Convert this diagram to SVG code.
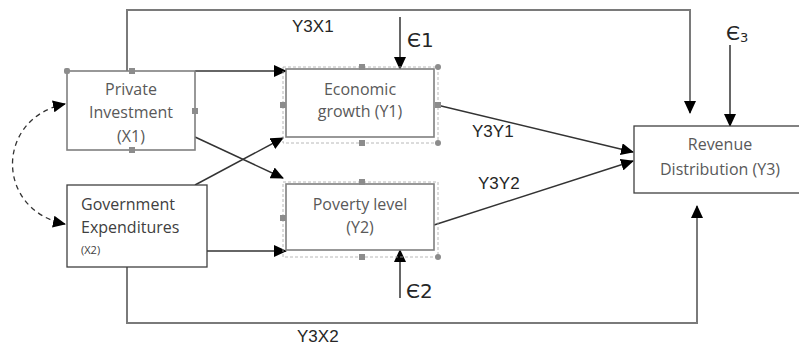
<svg xmlns="http://www.w3.org/2000/svg" width="799" height="346" viewBox="0 0 799 346">
<style>
.bg{fill:#fff}
.box{fill:#fff;stroke:#404040;stroke-width:1.3}
.gbox{fill:#fff;stroke:#7f7f7f;stroke-width:1.6}
.sel{fill:none;stroke:#a6a6a6;stroke-width:0.8;stroke-dasharray:3 2}
.h{fill:#8c8c8c}
.t{font-family:"Open Sans","Noto Sans",sans-serif;font-size:16px;fill:#595959;text-anchor:middle}
.tl{font-family:"Open Sans","Noto Sans",sans-serif;font-size:16px;fill:#404040}
.ts{font-family:"Open Sans","Noto Sans",sans-serif;font-size:11px;fill:#404040}
.lab{font-family:"Liberation Sans",Arial,sans-serif;font-size:17px;fill:#262626}
.eps{font-family:"DejaVu Sans","Liberation Sans",sans-serif;font-size:20px;fill:#262626}
.c{fill:none;stroke:#333;stroke-width:1.5}
.cg{fill:none;stroke:#7a7a7a;stroke-width:2}
.cd{fill:none;stroke:#333;stroke-width:1.3;stroke-dasharray:5 4}
</style>
<defs>
<marker id="ah" markerUnits="userSpaceOnUse" markerWidth="14" markerHeight="12" refX="12" refY="6" orient="auto-start-reverse" viewBox="0 0 14 12">
<path d="M0,0 L13,6 L0,12 Z" fill="#000"/>
</marker>
</defs>
<rect class="bg" x="0" y="0" width="799" height="346"/>

<g id="connectors">
<path class="cg" d="M127,71 V10 H690 V113" marker-end="url(#ah)"/>
<path class="cg" d="M127,267 V323 H697 V206" marker-end="url(#ah)"/>
<path class="c" d="M195,71 H286" marker-end="url(#ah)"/>
<path class="c" d="M195,137 L283,178" marker-end="url(#ah)"/>
<path class="c" d="M195,185 L283,138" marker-end="url(#ah)"/>
<path class="c" d="M188,251 H286" marker-end="url(#ah)"/>
<path class="c" d="M437,105 L633,152" marker-end="url(#ah)"/>
<path class="c" d="M434,225 L633,161" marker-end="url(#ah)"/>
<path class="c" d="M400,17 V69" marker-end="url(#ah)"/>
<path class="c" d="M400,298 V250" marker-end="url(#ah)"/>
<path class="c" d="M730,45 V126" marker-end="url(#ah)"/>
<path class="cd" d="M65,104 C-5,118 -5,210 65,224" marker-start="url(#ah)" marker-end="url(#ah)"/>
<text class="lab" x="292" y="32">Y3X1</text>
<text class="lab" x="297" y="342">Y3X2</text>
<text class="lab" x="472" y="137">Y3Y1</text>
<text class="lab" x="478" y="189">Y3Y2</text>
<text class="eps" x="407" y="47">Є1</text>
<text class="eps" x="406" y="298">Є2</text>
<text class="eps" x="726" y="40">Є<tspan font-size="13" dy="2">3</tspan></text>
</g>

<g id="private-investment">
<rect class="gbox" x="67" y="71" width="128" height="79"/>
<rect class="h" x="64" y="68" width="6" height="6" rx="2"/>
<rect class="h" x="129" y="68" width="6" height="6"/>
<rect class="h" x="192" y="108" width="6" height="6"/>
<rect class="h" x="129" y="147" width="6" height="6"/>
<text class="t" x="131" y="95">Private</text>
<text class="t" x="131" y="118">Investment</text>
<text class="t" x="131" y="142">(X1)</text>
</g>

<g id="government-expenditures">
<rect class="box" x="67" y="185" width="140" height="82"/>
<text class="tl" x="81" y="210">Government</text>
<text class="tl" x="81" y="233">Expenditures</text>
<text class="ts" x="81" y="254">(X2)</text>
</g>

<g id="economic-growth">
<rect class="sel" x="283" y="67" width="155" height="76"/>
<rect class="gbox" x="286" y="69" width="148" height="68"/>
<rect class="h" x="359" y="64" width="6" height="6"/>
<rect class="h" x="280" y="102" width="6" height="6"/>
<rect class="h" x="435" y="102" width="6" height="6"/>
<rect class="h" x="359" y="140" width="6" height="6"/>
<circle class="h" cx="438" cy="67" r="3"/>
<circle class="h" cx="438" cy="143" r="3"/>
<text class="t" x="360" y="95">Economic</text>
<text class="t" x="360" y="117">growth (Y1)</text>
</g>

<g id="poverty-level">
<rect class="sel" x="283" y="182" width="155" height="75"/>
<rect class="gbox" x="286" y="184" width="148" height="66"/>
<rect class="h" x="359" y="179" width="6" height="6"/>
<rect class="h" x="280" y="215" width="6" height="6"/>
<rect class="h" x="359" y="254" width="6" height="6"/>
<circle class="h" cx="438" cy="257" r="3"/>
<text class="t" x="360" y="210">Poverty level</text>
<text class="t" x="360" y="233">(Y2)</text>
</g>

<g id="revenue-distribution">
<rect class="box" x="634" y="126" width="170" height="67"/>
<text class="t" x="720" y="150">Revenue</text>
<text class="t" x="720" y="175">Distribution (Y3)</text>
</g>
</svg>
